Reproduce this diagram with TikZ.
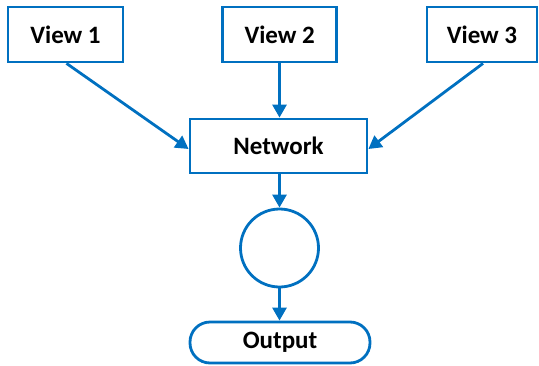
\documentclass[tikz,border=0pt]{standalone}
\usepackage{fontspec}
\setmainfont{Carlito}
\usetikzlibrary{arrows.meta}
\definecolor{flowblue}{HTML}{0070C0}
\tikzset{
  box/.style={draw=flowblue, line width=2.8pt, fill=white, minimum height=55pt,
    inner sep=0pt, font=\fontsize{25}{30}\selectfont\bfseries},
  term/.style={box, rounded corners=20pt, minimum height=41pt, minimum width=180pt},
  junction/.style={draw=flowblue, line width=2.8pt, circle, minimum size=78pt, inner sep=0pt},
  link/.style={draw=flowblue, line width=2.8pt, -{Triangle[length=13pt,width=14pt]}}
}
\begin{document}
\begin{tikzpicture}[x=1pt,y=-1pt]
  \useasboundingbox (0,0) rectangle (539,365);
  % input views
  \node[box, minimum width=115pt] (v1) at (65.5,34.5) {View 1};
  \node[box, minimum width=114pt] (v2) at (279.7,34.5) {View 2};
  \node[box, minimum width=110pt] (v3) at (482,34.5) {View 3};
  % processing chain
  \node[box, minimum width=177pt, minimum height=54pt] (net) at (278.5,146) {Network};
  \node[junction] (circ) at (279.5,248) {};
  \node[term] (out) at (280,342.5) {Output};
  % connectors
  \draw[link] ([xshift=1pt]v1.south) -- ([yshift=-3pt]net.west);
  \draw[link] (v2.south -| circ) -- (net.north -| circ);
  \draw[link] ([xshift=1pt]v3.south) -- ([yshift=-3pt]net.east);
  \draw[link] (net.south -| circ) -- (circ.north);
  \draw[link] (circ.south) -- (out.north -| circ);
\end{tikzpicture}
\end{document}
